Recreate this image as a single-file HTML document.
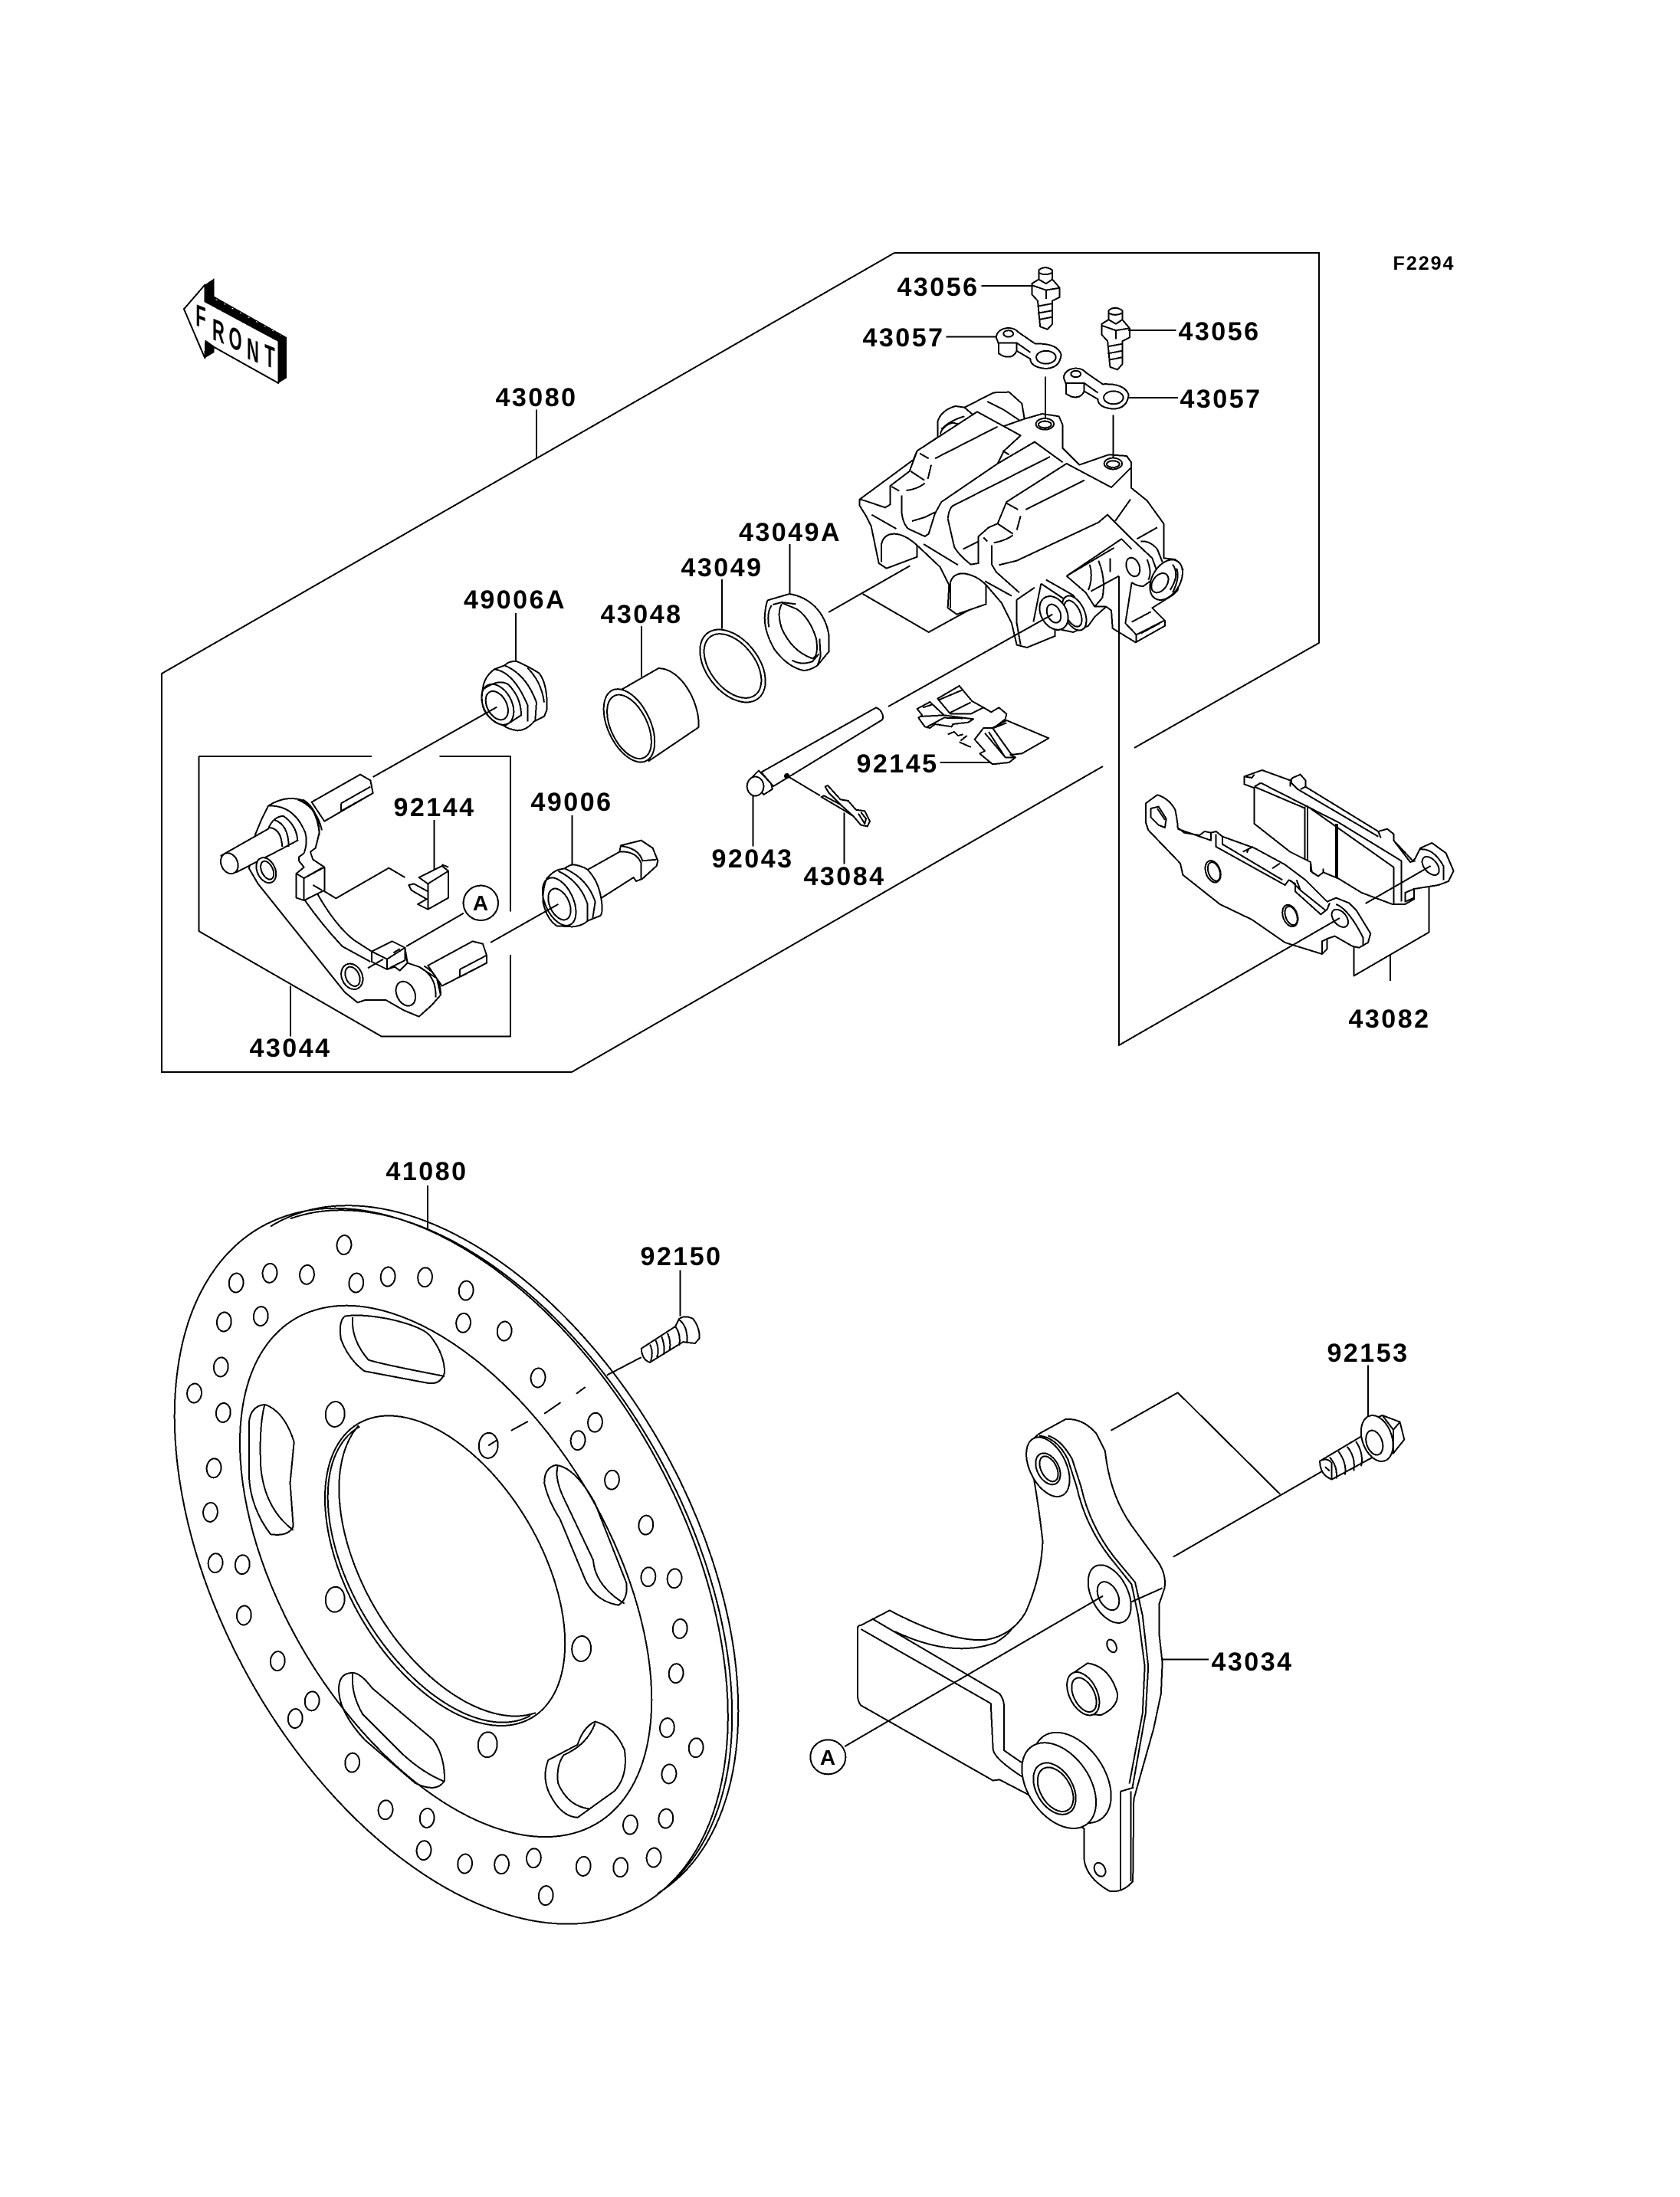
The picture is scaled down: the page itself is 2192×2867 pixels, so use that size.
<!DOCTYPE html>
<html><head><meta charset="utf-8"><style>
html,body{margin:0;padding:0;background:#fff}
svg{display:block;fill:none;stroke:#000;stroke-width:2;stroke-linejoin:round}
svg *{vector-effect:non-scaling-stroke}
.w{fill:#fff}.k{fill:#000}
text{font-family:"Liberation Sans",sans-serif;font-weight:bold;font-size:34px;letter-spacing:2.5px;fill:#000;stroke:none;text-anchor:middle}
.f{font-size:40px;letter-spacing:0}
</style></head><body>
<svg width="2192" height="2867" viewBox="0 0 2192 2867" xmlns="http://www.w3.org/2000/svg" shape-rendering="crispEdges">
<rect width="2192" height="2867" fill="#fff" stroke="none"/>
<path d="M1439 1000L746 1399H211V879L1167 330H1721V839L1480 976"/>

<!-- FRONT arrow -->
<g transform="translate(220,350) scale(.33333)">
 <path class="w" d="M60 160L142 65V130L430 285V450L180 310L145 285L142 352Z"/>
 <path class="k" stroke="none" d="M142 65L178 40V110L462 270V430L430 450V285L142 130Z"/>
 <path class="k" stroke="none" d="M142 285L178 310V330L142 352Z"/>
 <path d="M185 122L440 262" stroke="#fff" stroke-width="1" stroke-dasharray="2 10"/>
</g>

<!-- ZONE 1 -->
<g transform="translate(180,300) scale(.6378,.7334)">
 <path d="M815 320V405M773 682V770M1030 705V795M1195 622V710M606 1050V1138M888 1042V1130M1258 1005V1097M1445 1037V1128M312 1345V1435"/>
 <path d="M478 937H125V1248L498 1435H762V1290M617 937H762V1213"/>
 <!-- piston -->
 <path class="w" d="M975 825L1065 780C1110 780 1150 840 1147 885L1045 945Z"/>
 <ellipse class="w" cx="1005" cy="882" rx="42" ry="72" transform="rotate(-32 1005 882)"/>
 <ellipse cx="1005" cy="884" rx="36" ry="63" transform="rotate(-32 1005 884)"/>
 <!-- pin -->
 <path class="w" d="M1275 965L1510 850C1525 855 1526 870 1522 872L1300 990Z"/>
 <path class="w" d="M1255 975L1270 962L1295 985L1298 995L1280 1005Z"/>
 <ellipse class="w" cx="1263" cy="990" rx="17" ry="17"/>
</g>

<!-- rings -->
<ellipse cx="956" cy="869" rx="34" ry="54" transform="rotate(-38 956 869)"/>
<ellipse cx="956" cy="869" rx="29" ry="48" transform="rotate(-38 956 869)"/>
<g transform="translate(920,720) scale(.33333)">
 <path d="M332 -30V165"/>
 <path class="w" d="M245 190L330 165Q390 175 430 215Q475 260 485 330V390L440 445Q410 465 385 465Q320 450 270 380Q225 300 235 235Q238 205 245 190Z"/>
 <path d="M260 210Q240 240 250 295M265 207L300 198L355 205M300 205Q280 240 300 300Q340 390 420 418Q445 410 435 340Q410 260 360 225L300 200M340 425Q375 445 420 430L445 400M448 340L452 410L440 445"/>
</g>

<!-- grommets -->
<g transform="translate(600,830) scale(.33333)">
 <path class="w" d="M90 205Q95 160 135 130L175 115Q195 95 225 100Q270 120 310 145Q345 190 340 290L330 315L290 335Q260 370 225 370Q190 365 170 350Q120 335 95 290Q80 250 90 205Z"/>
 <path d="M90 210Q150 165 190 190Q240 240 240 310L175 352M135 130Q210 140 265 270V335M175 115Q260 150 300 260L295 330M265 125Q320 180 330 260"/>
 <ellipse cx="148" cy="268" rx="55" ry="85" transform="rotate(-28 148 268)"/>
 <ellipse cx="145" cy="272" rx="38" ry="60" transform="rotate(-28 145 272)"/>
 <path d="M145 278L-340 552"/>
 <path class="w" d="M500 915L625 845L630 820L710 800L755 830L775 880L770 900L715 950L690 960L680 945L555 1025Z"/>
 <path d="M625 845Q690 840 710 890V950M630 822Q700 830 715 880L770 875"/>
 <path class="w" d="M340 950Q360 925 385 915L410 910Q430 895 445 895Q480 900 500 915Q545 960 555 1040Q560 1085 550 1095L500 1115Q480 1135 440 1138L380 1135Q340 1110 325 1040Q325 985 340 950Z"/>
 <ellipse cx="389" cy="1040" rx="55" ry="100" transform="rotate(-25 389 1040)"/>
 <ellipse cx="390" cy="1050" rx="38" ry="65" transform="rotate(-25 390 1050)"/>
 <path d="M385 920Q470 960 500 1050V1115M410 910Q500 950 530 1040L520 1105M385 1050L120 1200"/>
</g>

<!-- clip + spring -->
<g transform="translate(1000,880) scale(.33333)">
 <ellipse class="k" cx="80" cy="398" rx="8" ry="8"/>
 <path d="M85 400L210 475"/>
 <path class="w" d="M215 480L225 475L290 510L245 465L230 440L240 435L290 490L320 495L350 530L385 535L405 575L395 595L370 590L340 555L300 530Z"/>
 <path d="M360 545L385 585L390 565L370 540M290 510L340 555"/>
 <path class="w" d="M590 135L640 108L695 160L770 170L810 175L790 188L730 195L725 205L660 195L640 210L620 205L595 170L610 160Z"/>
 <path d="M605 165L695 160M630 205L695 170L770 172M612 130L650 118"/>
 <path class="w" d="M670 95L755 45L805 105L850 130L800 155L720 155Z"/>
 <path d="M675 100L770 60M720 150L800 110M800 155L850 130L880 148L910 130L940 155L935 175L890 210"/>
 <path class="w" d="M815 255L850 210L885 210L940 180L1105 250L1000 310L955 315L975 325L950 345L885 352L835 310L855 300Z"/>
 <path d="M855 230L935 325L975 325M885 210L960 315M870 225L935 325M890 210L940 190M710 235L735 225L750 240L770 235M760 260L785 240M755 265L800 285M680 345H880"/>
</g>

<!-- ZONE 2: bleeders, banjos -->
<g transform="translate(1000,300) scale(.6378,.7015)">
 <path class="w" d="M557 75Q570 65 585 75V92L600 108V125L585 132V175L575 185L560 180L555 132L543 120V100L557 92Z"/>
 <path d="M557 92L572 100L585 92M543 103L572 112L600 108M572 112V128M555 142L585 137M555 155L585 150M557 167L585 162M558 80Q570 86 584 80"/>
 <g transform="translate(143,75)"><path class="w" d="M557 75Q570 65 585 75V92L600 108V125L585 132V175L575 185L560 180L555 132L543 120V100L557 92Z"/>
 <path d="M557 92L572 100L585 92M543 103L572 112L600 108M572 112V128M555 142L585 137M555 155L585 150M557 167L585 162M558 80Q570 86 584 80"/></g>
 <path d="M440 104H543M368 199H470M740 187H838M740 312H842"/>
 <g>
 <path class="w" d="M470 200C472 180 505 178 515 190L550 212Q595 210 603 232Q600 258 570 258Q540 255 540 240L512 225Q505 240 485 235L475 230V212Z"/>
 <ellipse cx="572" cy="237" rx="20" ry="12"/><ellipse cx="495" cy="193" rx="10" ry="6"/>
 <path d="M475 210L512 210L540 228M512 210V225"/>
 </g>
 <g transform="translate(138,75)">
 <path class="w" d="M470 200C472 180 505 178 515 190L550 212Q595 210 603 232Q600 258 570 258Q540 255 540 240L512 225Q505 240 485 235L475 230V212Z"/>
 <ellipse cx="572" cy="237" rx="20" ry="12"/><ellipse cx="495" cy="193" rx="10" ry="6"/>
 <path d="M475 210L512 210L540 228M512 210V225"/>
 </g>
</g>

<!-- CALIPER -->
<g transform="translate(1100,480) scale(.33333)">
 <path d="M-57 957L262 775M77 885L335 1035L535 925"/>
 <path class="w" d="M65 515L275 360L290 325L370 272V210Q385 165 440 150L475 155L590 97L650 95L700 140L710 200L780 180L845 190L860 225V315L925 380L1040 340L1110 345L1128 370V470L1190 520L1255 610V745L1300 750L1330 790L1310 870L1290 890L1210 940L1260 990V1010L1145 1075L1055 1020L1050 950L1030 935L985 975L960 1010L900 1035L830 1020V1050L720 1095L680 1085L660 1000L620 920L560 850V925L445 965L410 940L415 850L380 780L290 695V740L170 785L140 765L110 620L90 580L65 540Z"/>
 <path d="M65 515L85 520L165 547L185 535V462L260 405L290 325L525 172L695 265L630 325L605 375M360 355L605 230M625 325L650 340M630 228L710 200"/>
 <path d="M300 335L335 355M345 380L332 435M265 405L318 440M190 465L220 482M248 480Q290 475 320 452"/>
 <path d="M230 500V570Q235 610 255 630L320 660L335 650L360 570L385 525L605 375L750 290L860 370M270 600L320 585L360 565"/>
 <path d="M410 590Q415 550 430 540L810 348M410 590L435 700Q450 730 500 770L530 765V660L570 625L605 610L640 525L875 375L1050 468L1128 390M605 610L665 650"/>
 <path d="M640 530L685 555M695 580L680 635M470 710L530 680M550 665L565 680M590 685Q640 675 665 655M715 555L945 440"/>
 <path d="M582 695V770L600 800L690 880M610 772L680 755L1000 605L1035 575L1130 670L1210 745L1230 800M1065 600L1125 515"/>
 <path d="M315 690L450 772M555 835L660 893M112 575L208 630M150 760V690Q160 650 200 650Q240 650 290 695M420 940V840Q430 805 470 805Q520 810 560 850"/>
 <ellipse cx="790" cy="220" rx="35" ry="22"/><ellipse cx="790" cy="222" rx="25" ry="13"/>
 <ellipse cx="1057" cy="375" rx="35" ry="22"/><ellipse cx="1057" cy="377" rx="25" ry="13"/>
 <path d="M565 132L630 165L690 205M380 260Q390 225 430 215L450 220M385 240Q420 205 475 190M475 155L510 185M792 35V195M1058 185V350"/>
 <path d="M1150 670L1230 625M1165 680Q1200 675 1230 710L1250 760"/>
 <path d="M875 815L1090 670L1130 710M875 815L950 880L985 935L1030 935M875 815L1060 705"/>
 <path d="M965 770Q980 820 960 870M1000 755Q1030 830 1015 900L985 935M1045 745V800"/>
 <ellipse cx="1135" cy="780" rx="25" ry="38" transform="rotate(-20 1135 780)"/>
 <path d="M970 875L1080 815M1130 840L1105 1000L1148 1045V1075M1130 840Q1150 855 1175 855L1210 830M1190 750Q1210 800 1195 830"/>
 <path d="M1130 995L1205 955M1165 1040L1240 1000M1148 1045L1260 988"/>
 <ellipse class="w" cx="1265" cy="830" rx="55" ry="85" transform="rotate(30 1265 830)"/>
 <ellipse cx="1240" cy="842" rx="28" ry="42" transform="rotate(35 1240 842)"/>
 <path d="M1290 770Q1320 810 1280 870M1305 785Q1320 820 1290 880"/>
 <path d="M775 845L880 915M775 845L745 995M795 830L900 890L945 950M680 908L750 860M680 908V1000L695 1085M720 1095L830 1050"/>
 <ellipse class="w" cx="905" cy="960" rx="40" ry="72" transform="rotate(-25 905 960)"/>
 <ellipse cx="900" cy="962" rx="28" ry="55" transform="rotate(-25 900 962)"/>
 <ellipse class="w" cx="825" cy="960" rx="50" ry="70" transform="rotate(-30 825 960)"/>
 <ellipse cx="825" cy="962" rx="25" ry="38" transform="rotate(-25 825 962)"/>
 <path d="M820 965L177 1326"/>
</g>

<!-- PADS -->
<g transform="translate(1470,980) scale(.33333)">
 <path class="w" d="M460 100L530 75L640 115L650 105L680 92L700 115V140L985 315L1020 305L1045 325V350L1120 430L1130 420L1150 380L1195 360L1250 400L1280 470L1260 510L1220 525L1125 540V580L1090 600L1040 600L920 555L830 500L770 475L750 490L725 475L720 435L640 395L500 285V145L460 130Z"/>
 <path d="M500 140L700 225M705 215L1045 455V600M525 125L830 280L1075 430V590M640 118V140M645 108V125L670 150L985 335M985 315L995 340M680 150L700 140M1045 350L1110 435L1130 430M460 100L490 105L500 92M500 140L525 125"/>
 <path d="M698 218V425M708 215V430"/>
 <path d="M822 285V495" stroke-width="4"/>
 <path d="M720 435V470L750 490L770 475V460"/>
 <path d="M1150 385Q1200 380 1240 450V505"/>
 <ellipse cx="1190" cy="450" rx="25" ry="42" transform="rotate(-40 1190 450)"/>
 <path d="M1090 555L1125 540V575L1090 590ZM1190 450L935 597"/>
 <path d="M1183 530V710L890 880V765M1032 795V900"/>
 <path class="w" d="M75 205L120 172Q165 185 190 230Q200 280 200 300L225 320L285 330L305 315L330 320L350 315L375 335L500 380L620 445L700 505L785 590L820 575L870 595L900 625L955 715L945 750L910 770L885 765L815 725L785 735L765 745V795L620 750L490 660L365 600L220 485L210 440L85 310L75 280Z"/>
 <path d="M95 225L125 218L155 265L150 300L125 290L95 260ZM120 225L150 270"/>
 <ellipse cx="338" cy="472" rx="28" ry="44" transform="rotate(-20 338 472)"/>
 <ellipse cx="342" cy="472" rx="22" ry="38" transform="rotate(-20 342 472)"/>
 <ellipse cx="640" cy="645" rx="28" ry="44" transform="rotate(-20 640 645)"/>
 <ellipse cx="644" cy="645" rx="22" ry="38" transform="rotate(-20 644 645)"/>
 <ellipse cx="835" cy="655" rx="25" ry="40" transform="rotate(-40 835 655)"/>
 <path d="M200 305L330 350V320M350 325V375L620 525L635 505L660 520V550L760 640L785 620L795 595M375 335V365L610 505M600 440L570 460M495 375L455 395M480 380L470 398M640 505L680 545L780 625M665 505L680 545M820 600Q870 620 925 730V765M785 735V775L765 795"/>
</g>
<path d="M1460 752V1364L1748 1198"/>

<!-- BRACKET 43044 -->
<g transform="translate(270,990) scale(.33333)">
 <path d="M420 495L505 547L712 428L775 465M780 735L1005 605"/>
 <path class="w" d="M410 170L600 62L640 85L650 135L460 245Z"/>
 <path d="M525 175L640 110M525 205L650 135M525 175V205"/>
 <path class="w" d="M240 185Q310 140 380 165Q430 200 440 290L425 350L405 365L415 395L460 425V515L430 525Q500 650 575 710L645 755L725 715L775 740L785 800L830 815L900 860L915 925L880 965L830 1010L770 985L700 945L620 945L590 955L540 915L200 490L165 430L190 295L215 235Z"/>
 <path d="M355 160Q430 190 450 280M375 160Q440 200 440 300M240 185Q340 180 385 290Q395 330 380 370L360 385V400L380 425L350 450"/>
 <path d="M380 550Q450 650 530 735L640 795"/>
 <path class="w" d="M350 450V545L380 555L460 515V425L380 468Z"/>
 <path d="M350 450L380 468V555M380 468L450 428M415 495L450 515"/>
 <path class="w" d="M645 755L725 715L775 740L705 785Z"/>
 <path class="w" d="M645 755V795L705 825V785Z"/>
 <path d="M705 825L775 790V740M730 760L755 745M630 820L690 785M705 825L735 815L755 830L785 800"/>
 <path class="w" d="M55 380L240 275Q260 225 300 225Q350 260 355 320L290 355L115 445Z"/>
 <path d="M240 270Q290 270 295 345M265 240Q320 260 320 345"/>
 <ellipse class="w" cx="88" cy="410" rx="32" ry="42" transform="rotate(-25 88 410)"/>
 <ellipse class="w" cx="232" cy="437" rx="35" ry="52" transform="rotate(-25 232 437)"/>
 <ellipse cx="236" cy="437" rx="22" ry="38" transform="rotate(-25 236 437)"/>
 <ellipse class="w" cx="568" cy="853" rx="40" ry="52" transform="rotate(-25 568 853)"/>
 <ellipse cx="570" cy="853" rx="26" ry="40" transform="rotate(-25 570 853)"/>
 <ellipse class="w" cx="778" cy="920" rx="35" ry="50" transform="rotate(-25 778 920)"/>
 <path class="w" d="M865 810L1040 715L1080 725L1095 770V800L920 890Z"/>
 <path d="M990 825L1095 770M990 855L1095 800M990 825V855M830 815Q900 850 895 935M850 812Q915 850 915 925"/>
 <path class="w" d="M830 465L920 420L945 440V545L865 590L825 570L860 550L800 515L790 495L810 490L865 520V490Z"/>
 <path d="M830 465L865 490L945 440M865 490V590M920 415L945 425"/>
 <ellipse class="w" cx="1072" cy="565" rx="68" ry="68"/>
</g>

<!-- ZONE 3: rotor -->
<g transform="translate(200,1500) scale(.5102,.6696)">
 <path d="M702 70V163M1348 235V325"/>
 <ellipse class="w" cx="762" cy="812" rx="837" ry="535" transform="rotate(44 762 812)"/>
 <path d="M300 150A822 522 44 0 1 1290 1450"/>
 <path d="M350 135A830 525 44 0 1 1330 1425"/>
 <ellipse cx="748" cy="822" rx="636" ry="375" transform="rotate(44 748 822)"/>
 <ellipse class="w" cx="746" cy="821" rx="369" ry="222" transform="rotate(44 746 821)"/>
 <path d="M528 540A350 205 44 0 0 965 1103"/>
 <path d="M525 538A369 222 44 0 0 978 1098"/>
 <path d="M490 325Q473 335 480 370Q500 410 540 432L700 455Q735 460 745 435Q745 400 710 365Q690 345 600 330Q530 320 490 325ZM510 327Q505 370 550 410Q580 418 745 442"/>
 <path d="M285 497Q250 500 245 530V640Q250 700 300 750Q345 755 358 735L350 650L360 570Q335 510 285 497ZM285 497Q270 540 275 620Q285 700 358 742"/>
 <path d="M1030 615Q1000 620 1000 650Q1010 685 1040 720L1100 830Q1125 880 1190 888Q1215 875 1210 845L1130 690Q1080 620 1030 615ZM1035 615Q1025 640 1050 680L1125 800Q1130 850 1205 885"/>
 <path d="M510 1020Q470 1020 475 1060Q480 1100 540 1150L670 1235Q725 1255 745 1230Q745 1180 715 1150L560 1050Q530 1020 510 1020ZM510 1022Q505 1060 535 1100L640 1180Q690 1215 745 1232"/>
 <path d="M1130 1115Q1100 1125 1085 1160L1010 1190Q995 1220 1010 1250Q1040 1300 1085 1302L1180 1250Q1215 1220 1205 1170Q1180 1125 1130 1115ZM1130 1118Q1110 1160 1050 1180Q1030 1200 1035 1235Q1060 1280 1115 1285"/>
 <g>
 <ellipse cx="488" cy="186" rx="18" ry="19" transform="rotate(40 488 186)"/><ellipse cx="212" cy="260" rx="18" ry="19" transform="rotate(40 212 260)"/><ellipse cx="298" cy="241" rx="18" ry="19" transform="rotate(40 298 241)"/><ellipse cx="393" cy="244" rx="18" ry="19" transform="rotate(40 393 244)"/><ellipse cx="519" cy="260" rx="18" ry="19" transform="rotate(40 519 260)"/><ellipse cx="600" cy="248" rx="18" ry="19" transform="rotate(40 600 248)"/><ellipse cx="695" cy="249" rx="18" ry="19" transform="rotate(40 695 249)"/><ellipse cx="800" cy="275" rx="18" ry="19" transform="rotate(40 800 275)"/><ellipse cx="793" cy="338" rx="18" ry="19" transform="rotate(40 793 338)"/><ellipse cx="898" cy="354" rx="18" ry="19" transform="rotate(40 898 354)"/><ellipse cx="275" cy="325" rx="18" ry="19" transform="rotate(40 275 325)"/><ellipse cx="181" cy="336" rx="18" ry="19" transform="rotate(40 181 336)"/><ellipse cx="173" cy="424" rx="18" ry="19" transform="rotate(40 173 424)"/><ellipse cx="105" cy="475" rx="18" ry="19" transform="rotate(40 105 475)"/><ellipse cx="179" cy="513" rx="18" ry="19" transform="rotate(40 179 513)"/><ellipse cx="984" cy="445" rx="18" ry="19" transform="rotate(40 984 445)"/><ellipse cx="1130" cy="532" rx="18" ry="19" transform="rotate(40 1130 532)"/><ellipse cx="1086" cy="567" rx="18" ry="19" transform="rotate(40 1086 567)"/><ellipse cx="1173" cy="644" rx="18" ry="19" transform="rotate(40 1173 644)"/><ellipse cx="1260" cy="732" rx="18" ry="19" transform="rotate(40 1260 732)"/><ellipse cx="155" cy="621" rx="18" ry="19" transform="rotate(40 155 621)"/><ellipse cx="146" cy="707" rx="18" ry="19" transform="rotate(40 146 707)"/><ellipse cx="159" cy="806" rx="18" ry="19" transform="rotate(40 159 806)"/><ellipse cx="228" cy="809" rx="18" ry="19" transform="rotate(40 228 809)"/><ellipse cx="1266" cy="833" rx="18" ry="19" transform="rotate(40 1266 833)"/><ellipse cx="1333" cy="836" rx="18" ry="19" transform="rotate(40 1333 836)"/><ellipse cx="1347" cy="934" rx="18" ry="19" transform="rotate(40 1347 934)"/><ellipse cx="232" cy="908" rx="18" ry="19" transform="rotate(40 232 908)"/><ellipse cx="1337" cy="1021" rx="18" ry="19" transform="rotate(40 1337 1021)"/><ellipse cx="318" cy="997" rx="18" ry="19" transform="rotate(40 318 997)"/><ellipse cx="406" cy="1075" rx="18" ry="19" transform="rotate(40 406 1075)"/><ellipse cx="363" cy="1109" rx="18" ry="19" transform="rotate(40 363 1109)"/><ellipse cx="1314" cy="1127" rx="18" ry="19" transform="rotate(40 1314 1127)"/><ellipse cx="1388" cy="1166" rx="18" ry="19" transform="rotate(40 1388 1166)"/><ellipse cx="1319" cy="1217" rx="18" ry="19" transform="rotate(40 1319 1217)"/><ellipse cx="509" cy="1195" rx="18" ry="19" transform="rotate(40 509 1195)"/><ellipse cx="594" cy="1287" rx="18" ry="19" transform="rotate(40 594 1287)"/><ellipse cx="700" cy="1303" rx="18" ry="19" transform="rotate(40 700 1303)"/><ellipse cx="1311" cy="1304" rx="18" ry="19" transform="rotate(40 1311 1304)"/><ellipse cx="1220" cy="1316" rx="18" ry="19" transform="rotate(40 1220 1316)"/><ellipse cx="692" cy="1366" rx="18" ry="19" transform="rotate(40 692 1366)"/><ellipse cx="797" cy="1392" rx="18" ry="19" transform="rotate(40 797 1392)"/><ellipse cx="891" cy="1393" rx="18" ry="19" transform="rotate(40 891 1393)"/><ellipse cx="973" cy="1381" rx="18" ry="19" transform="rotate(40 973 1381)"/><ellipse cx="1100" cy="1397" rx="18" ry="19" transform="rotate(40 1100 1397)"/><ellipse cx="1195" cy="1399" rx="18" ry="19" transform="rotate(40 1195 1399)"/><ellipse cx="1280" cy="1380" rx="18" ry="19" transform="rotate(40 1280 1380)"/><ellipse cx="1004" cy="1454" rx="18" ry="19" transform="rotate(40 1004 1454)"/>
 <ellipse cx="465" cy="516" rx="24" ry="25" transform="rotate(40 465 516)"/><ellipse cx="857" cy="577" rx="24" ry="25" transform="rotate(40 857 577)"/><ellipse cx="465" cy="877" rx="24" ry="25" transform="rotate(40 465 877)"/><ellipse cx="1095" cy="973" rx="24" ry="25" transform="rotate(40 1095 973)"/><ellipse cx="855" cy="1160" rx="24" ry="25" transform="rotate(40 855 1160)"/>
 </g>
 <path d="M915 548L958 530M1000 515L1042 493M1082 476L1105 463M1160 440L1248 405M857 577L878 567"/>
 <path class="w" d="M1248 388L1335 345L1345 330Q1360 322 1380 330Q1397 345 1397 368L1385 378L1355 375L1270 415Q1250 410 1248 388Z"/>
 <path d="M1270 380Q1280 395 1272 412M1285 372Q1295 390 1288 405M1300 365Q1310 385 1305 400M1315 358Q1325 375 1320 392M1335 345Q1350 360 1345 382M1345 332Q1368 345 1365 378"/>
</g>

<!-- ZONE 4: bracket -->
<g transform="translate(1000,1700) scale(.574,.5102)">
 <path d="M1368 160V295M783 327L935 230L1168 490M1265 430L925 650M900 912H1005"/>
 <path class="w" d="M608 450L595 400Q590 360 620 335L680 298Q720 295 750 335L770 380Q780 490 830 570L885 655Q910 690 905 730L893 770V850L900 920L897 1000L880 1090L850 1210L835 1270L833 1480Q810 1510 780 1505Q725 1470 722 1420V1345L590 1255L530 1220L515 1222L215 1030Q207 1020 207 1000V835Q207 825 215 825L280 787Q420 870 500 862Q560 850 590 790Q625 700 628 610Q620 530 608 450Z"/>
 <path d="M240 808L530 1000Q540 1015 540 1030V1145L585 1180M215 835L510 1025L515 1140Q515 1165 585 1215"/>
 <path d="M290 840Q420 910 520 870Q550 850 560 830"/>
 <path d="M620 340Q660 345 685 400L705 470Q725 570 780 650L830 720L845 800L860 930L855 1050L825 1230M640 340Q670 350 695 400L715 470Q735 570 790 650L838 715L855 800L868 930L862 1050L832 1240M830 765L900 730"/>
 <path d="M805 1250V1500M828 1250V1480M805 1250L835 1240"/>
 <ellipse cx="758" cy="1450" rx="12" ry="18" transform="rotate(-20 758 1450)"/>
 <ellipse class="w" cx="640" cy="420" rx="42" ry="80" transform="rotate(-22 640 420)"/>
 <ellipse cx="640" cy="425" rx="25" ry="42" transform="rotate(-22 640 425)"/>
 <ellipse cx="642" cy="425" rx="18" ry="34" transform="rotate(-22 642 425)"/>
 <ellipse class="w" cx="780" cy="745" rx="42" ry="78" transform="rotate(-22 780 745)"/>
 <ellipse cx="777" cy="750" rx="22" ry="38" transform="rotate(-22 777 750)"/>
 <ellipse cx="785" cy="878" rx="10" ry="17" transform="rotate(-20 785 878)"/>
 <path class="w" d="M700 945L730 922Q780 930 798 1000Q800 1035 760 1055L720 1050Z"/>
 <ellipse class="w" cx="720" cy="1000" rx="32" ry="58" transform="rotate(-22 720 1000)"/>
 <ellipse cx="722" cy="1003" rx="24" ry="46" transform="rotate(-22 722 1003)"/>
 <ellipse class="w" cx="695" cy="1215" rx="75" ry="125" transform="rotate(-28 695 1215)"/>
 <ellipse class="w" cx="665" cy="1235" rx="72" ry="118" transform="rotate(-28 665 1235)"/>
 <ellipse cx="655" cy="1243" rx="42" ry="70" transform="rotate(-25 655 1243)"/>
 <ellipse cx="657" cy="1245" rx="35" ry="60" transform="rotate(-25 657 1245)"/>
 <path d="M178 1135L765 750"/>
 <ellipse class="w" cx="140" cy="1162" rx="40" ry="44"/>
 <path class="w" d="M1258 405L1355 340L1395 385L1285 452Q1258 440 1258 405Z"/>
 <path class="w" d="M1375 300L1400 288L1440 305L1450 350L1425 385L1390 385Z"/>
 <ellipse class="w" cx="1388" cy="347" rx="34" ry="60" transform="rotate(-15 1388 347)"/>
 <ellipse cx="1382" cy="358" rx="18" ry="32" transform="rotate(-15 1382 358)"/>
 <path d="M1400 288L1425 325L1440 305M1425 325V385M1280 395Q1300 420 1295 450M1300 380Q1320 410 1315 440M1320 368Q1340 395 1335 430M1340 355Q1358 385 1352 418M1258 405Q1275 395 1285 410V452M1270 420L1280 430"/>
</g>

<!-- labels -->
<text x="700" y="530">43080</text>
<text x="672" y="794">49006A</text>
<text x="837" y="813">43048</text>
<text x="942" y="752">43049</text>
<text x="1031" y="706">43049A</text>
<text x="567" y="1065">92144</text>
<text x="746" y="1058">49006</text>
<text x="982" y="1132">92043</text>
<text x="1102" y="1155">43084</text>
<text x="379" y="1379">43044</text>
<text x="1224" y="386">43056</text>
<text x="1591" y="444">43056</text>
<text x="1179" y="452">43057</text>
<text x="1593" y="532">43057</text>
<text x="1171" y="1008">92145</text>
<text x="1813" y="1341">43082</text>
<text x="1858" y="352" style="font-size:25px;letter-spacing:2px">F2294</text>
<text x="557" y="1540">41080</text>
<text x="889" y="1651">92150</text>
<text x="1785" y="1777">92153</text>
<text x="1634" y="2180">43034</text>
<text x="627" y="1188" style="font-size:28px;letter-spacing:0">A</text>
<text x="1080" y="2303" style="font-size:28px;letter-spacing:0">A</text>
<text class="f" transform="translate(262,427) skewY(22) scale(.55,1)">F</text>
<text class="f" transform="translate(285,446) skewY(22) scale(.55,1)">R</text>
<text class="f" transform="translate(307,456) skewY(22) scale(.55,1)">O</text>
<text class="f" transform="translate(330,471) skewY(22) scale(.55,1)">N</text>
<text class="f" transform="translate(352,479) skewY(22) scale(.55,1)">T</text>
</svg>
</body></html>
